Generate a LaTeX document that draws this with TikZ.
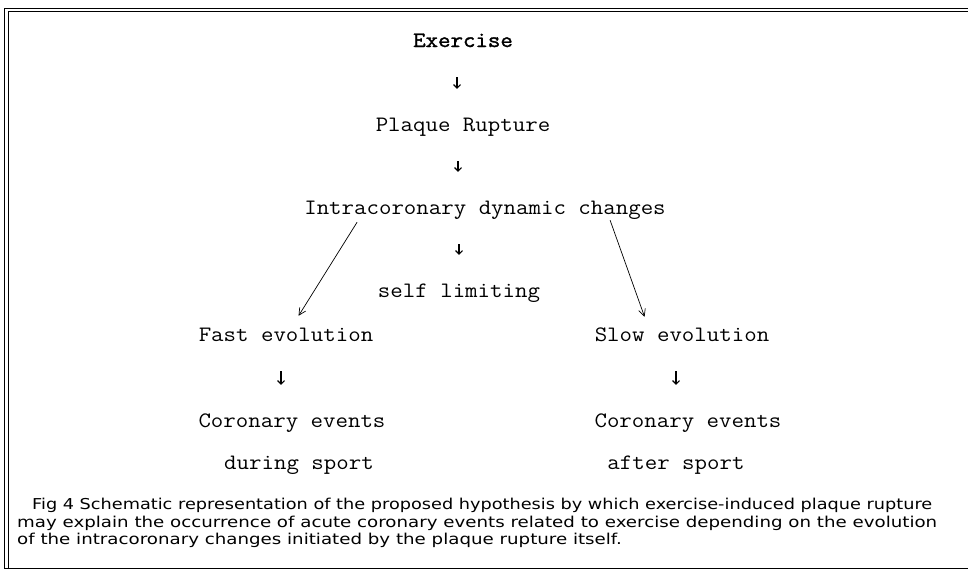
\documentclass[tikz,border=0pt]{standalone}
\usepackage{fontspec}
\usetikzlibrary{arrows.meta}
\newfontfamily\diafont[FakeStretch=1.1]{Latin Modern Mono}
\newfontfamily\diabold[FakeStretch=1.1,FakeBold=1.6]{Latin Modern Mono}
\newfontfamily\capfont{DejaVu Sans}
\newlength\capw
\newlength\capwone
\newcommand\capone{Fig 4 Schematic representation of the proposed hypothesis by which exercise-induced plaque rupture}
\newcommand\captwo{may explain the occurrence of acute coronary events related to exercise depending on the evolution}
\newcommand\capthree{of the intracoronary changes initiated by the plaque rupture itself.}
\AtBeginDocument{%
  \settowidth\capw{\capfont\fontsize{15}{17}\selectfont\captwo}%
  \settowidth\capwone{\capfont\fontsize{15}{17}\selectfont\capone}%
  \pgfmathsetmacro{\capsx}{920/\capw}\xdef\capsx{\capsx}%
  \pgfmathsetmacro{\capsxone}{900/\capwone}\xdef\capsxone{\capsxone}}
\tikzset{
  lbl/.style={font=\diafont\fontsize{22}{26}\selectfont, inner sep=0pt,
    text height=15pt, text depth=5pt, anchor=base},
  boldlbl/.style={lbl, font=\diabold\fontsize{22}{26}\selectfont},
  dn/.style={line width=1.1pt, -{Straight Barb[length=3.5pt,width=7pt]},
    shorten <=25pt, shorten >=27pt},
  diag/.style={line width=0.7pt, -{Straight Barb[length=7pt,width=7pt]}},
  captext/.style={font=\capfont\fontsize{15}{17}\selectfont, inner sep=0pt, anchor=base west},
  frameline/.style={line width=0.9pt, black}
}
\begin{document}
\begin{tikzpicture}[x=1pt, y=-1pt]
\useasboundingbox (0,0) rectangle (968,573);
\fill[white] (0,0) rectangle (968,573);
% frame
\draw[frameline] (4,8) -- (968,8);
\draw[frameline] (8,11.5) -- (968,11.5);
\draw[frameline] (4,8) -- (4,568) -- (968,568);
\draw[frameline] (8,11.5) -- (8,568);
% nodes
\node[boldlbl] (ex) at (463,47) {Exercise};
\node[lbl] (pr) at (463,131) {Plaque Rupture};
\node[lbl] (ic) at (485,214) {Intracoronary dynamic changes};
\node[lbl] (sl) at (459,297) {self limiting};
\node[lbl] (fe) at (286,341) {Fast evolution};
\node[lbl] (se) at (682,341) {Slow evolution};
\node[lbl] (ce1) at (292,427) {Coronary events};
\node[lbl] (ce2) at (688,427) {Coronary events};
\node[lbl] (ds) at (299,469) {during sport};
\node[lbl] (as) at (676,469) {after sport};
% vertical arrows
\coordinate (a1) at ([xshift=-6pt]ex.south);
\draw[dn] (a1) -- (a1 |- pr.north);
\coordinate (a2) at ([xshift=-5pt]pr.south);
\draw[dn] (a2) -- (a2 |- ic.north);
\draw[dn] (sl.north |- ic.south) -- (sl.north);
\coordinate (a4) at ([xshift=-5pt]fe.south);
\draw[dn] (a4) -- (a4 |- ce1.north);
\coordinate (a5) at ([xshift=-6pt]se.south);
\draw[dn] (a5) -- (a5 |- ce2.north);
% diagonal arrows
\draw[diag] ([xshift=53pt,yshift=-3pt]ic.south west) -- ([xshift=100pt,yshift=10pt]fe.north west);
\draw[diag] ([xshift=306pt,yshift=-1pt]ic.south west) -- ([xshift=50pt,yshift=9pt]se.north west);
% caption
\node[captext] (c1) at (32,509) {\scalebox{\capsxone}[1]{\capone}};
\node[captext] (c2) at (17,527) {\scalebox{\capsx}[1]{\captwo}};
\node[captext] (c3) at (17,544) {\scalebox{\capsx}[1]{\capthree}};
\end{tikzpicture}
\end{document}
